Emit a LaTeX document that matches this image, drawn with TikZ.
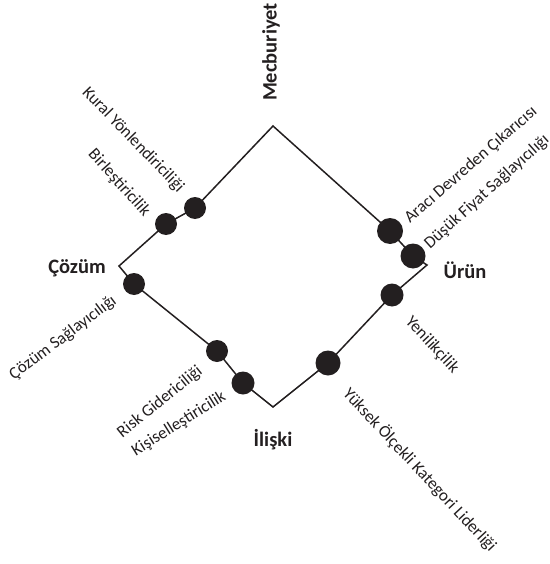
\documentclass[tikz,border=0pt]{standalone}
\usepackage{fontspec}
\setmainfont{Carlito}
\usetikzlibrary{backgrounds}
\definecolor{ink}{HTML}{231F20}
\begin{document}
\begin{tikzpicture}[x=1pt,y=-1pt,
 dot/.style={circle,fill=ink,inner sep=0,minimum size=#1},
 lbl/.style={font=\fontsize{17}{20}\selectfont, text=ink, inner sep=0},
 head/.style={font=\bfseries\fontsize{20.5}{24}\selectfont, text=ink, inner sep=0},
 edge/.style={draw=ink, line width=1.5pt, line join=miter}]
\useasboundingbox (0,0) rectangle (549,564);
% vertices
\coordinate (T) at (273,126);
\coordinate (L) at (119,266);
\coordinate (B) at (273,407);
\coordinate (R) at (427,265);
% dots
\node[dot=22] (kural) at (195,208) {};
\node[dot=22] (birl) at (166,224) {};
\node[dot=22] (cozs) at (134,284) {};
\node[dot=22] (risk) at (217,351) {};
\node[dot=23] (kisi) at (243,383) {};
\node[dot=25] (yuk) at (328,363) {};
\node[dot=23] (yeni) at (392,295) {};
\node[dot=25] (dusuk) at (413,256) {};
\node[dot=26] (araci) at (390,231) {};
\begin{scope}[on background layer]
\draw[edge] (T) -- (kural.center) -- (birl.center) -- (L) -- (cozs.center) -- (risk.center) -- (kisi.center) -- (B) -- (yuk.center) -- (yeni.center) -- (R) -- (dusuk.center) -- (araci.center) -- cycle;
\end{scope}
% headings
\node[head, rotate=90] (mec) at (271,52) {Mecburiyet};
\node[head] (coz) at (77,268) {Çözüm};
\node[head] (urun) at (465,270) {Ürün};
\node[head] (ilis) at (273,440) {İlişki};
% labels
\node[lbl, rotate=-46] (lkural) at (133,140) {Kural Yönlendiriciliği};
\node[lbl, rotate=-48] (lbirl) at (119,183) {Birleştiricilik};
\node[lbl, rotate=41] (laraci) at (471,165) {Aracı Devreden Çıkarıcısı};
\node[lbl, rotate=42] (ldusuk) at (487,192) {Düşük Fiyat Sağlayıcılığı};
\node[lbl, rotate=37] (lcozs) at (63,338) {Çözüm Sağlayıcılığı};
\node[lbl, rotate=39] (lrisk) at (160,402) {Risk Gidericiliği};
\node[lbl, rotate=32] (lkisi) at (179,424) {Kişiselleştiricilik};
\node[lbl, rotate=-47] (lyeni) at (432,345) {Yenilikçilik};
\node[lbl, rotate=-47] (lyuk) at (420,470) {Yüksek Ölçekli Kategori Liderliği};
\end{tikzpicture}
\end{document}
